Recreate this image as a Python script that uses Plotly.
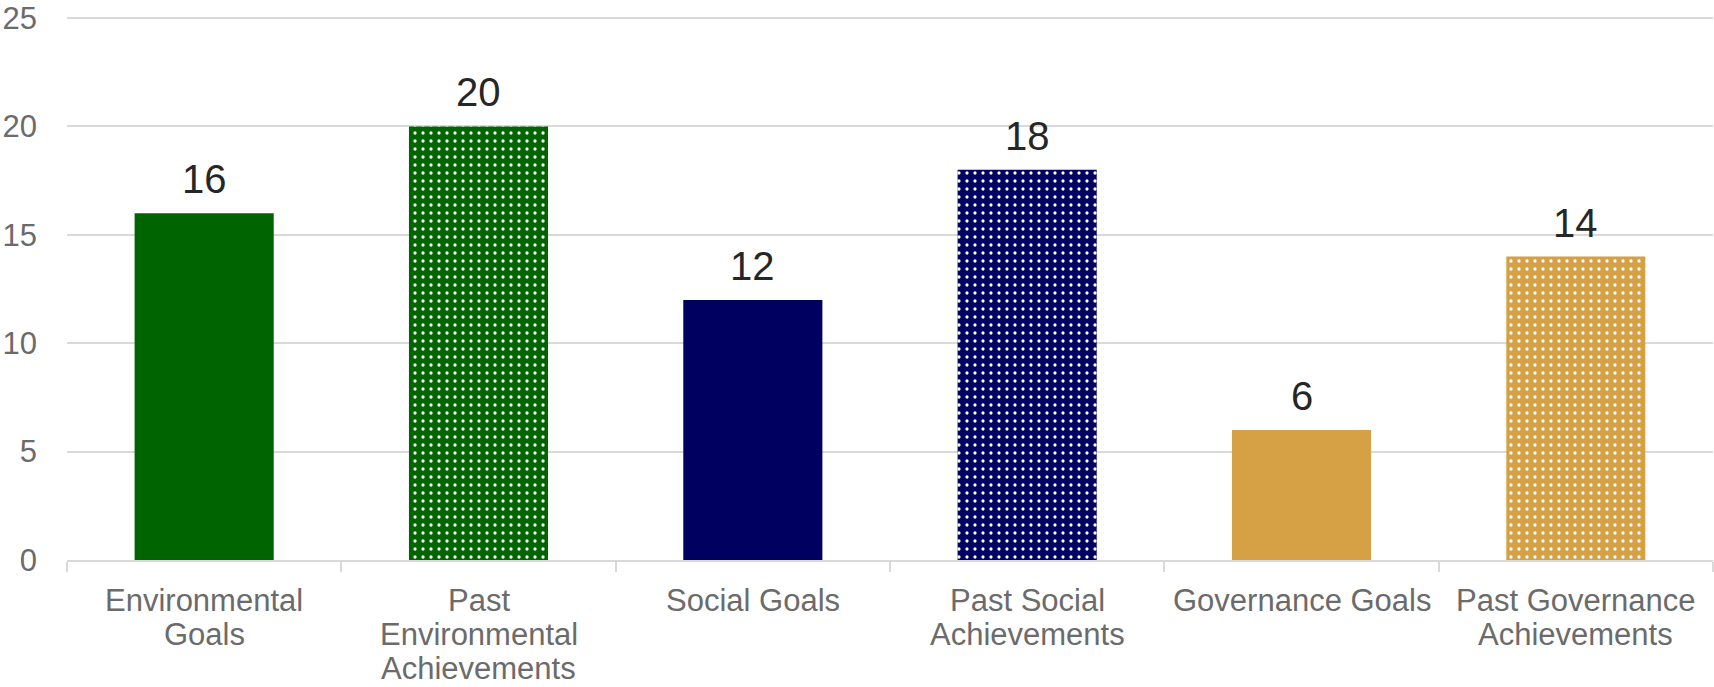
import plotly.graph_objects as go

categories = [
    "Environmental<br>Goals",
    "Past<br>Environmental<br>Achievements",
    "Social Goals",
    "Past Social<br>Achievements",
    "Governance Goals",
    "Past Governance<br>Achievements",
]
values = [16, 20, 12, 18, 6, 14]
bar_colors = ["#006400", "#006400", "#000060", "#000060", "#D6A144", "#D6A144"]
dotted = [False, True, False, True, False, True]
y_ticks = [0, 5, 10, 15, 20, 25]

FONT = "Liberation Sans, Arial, sans-serif"
LABEL_GRAY = "#6b6b6b"

fig = go.Figure()
for c, v, col, d in zip(categories, values, bar_colors, dotted):
    pattern = dict(shape="")
    if d:
        pattern = dict(
            shape=".",
            fgcolor="#ffffff",
            bgcolor=col,
            fgopacity=1,
            size=8,
            solidity=0.13,
            fillmode="replace",
        )
    fig.add_trace(
        go.Bar(
            x=[c],
            y=[v],
            cliponaxis=False,
            marker=dict(color=col, line=dict(width=0), pattern=pattern),
        )
    )

# value labels above bars
for c, v in zip(categories, values):
    fig.add_annotation(
        x=c, y=v, xref="x", yref="y",
        text=str(v), showarrow=False,
        yanchor="bottom", yshift=10,
        font=dict(size=40, color="#262626", family=FONT),
    )

# category labels (one annotation per line for tighter line spacing)
LINE_STEP = 34
for c in categories:
    lines = c.split("<br>")
    for i, ln in enumerate(lines):
        fig.add_annotation(
            x=c, y=0, xref="x", yref="paper",
            text=ln, showarrow=False,
            yanchor="middle", yshift=-40 - i * LINE_STEP,
            font=dict(size=31, color=LABEL_GRAY, family=FONT),
        )

fig.update_layout(
    width=1714,
    height=687,
    margin=dict(l=67, r=1, t=14, b=127),
    paper_bgcolor="white",
    plot_bgcolor="white",
    barmode="overlay",
    bargap=0.493,
    showlegend=False,
    font=dict(family=FONT, color=LABEL_GRAY, size=31),
)

fig.update_xaxes(
    categoryorder="array",
    categoryarray=categories,
    showline=True,
    linecolor="#d9d9d9",
    linewidth=2,
    ticks="outside",
    tickson="boundaries",
    ticklen=10,
    tickwidth=2,
    tickcolor="#d9d9d9",
    showticklabels=False,
    showgrid=False,
)

fig.update_yaxes(
    range=[0, 25.05],
    tickvals=y_ticks,
    showgrid=True,
    gridcolor="#d9d9d9",
    gridwidth=2,
    zeroline=False,
    showline=False,
    ticks="",
    ticklabelstandoff=29,
    ticklabeloverflow="allow",
    tickfont=dict(size=31, color=LABEL_GRAY, family=FONT),
)

fig.write_html("out.html")
